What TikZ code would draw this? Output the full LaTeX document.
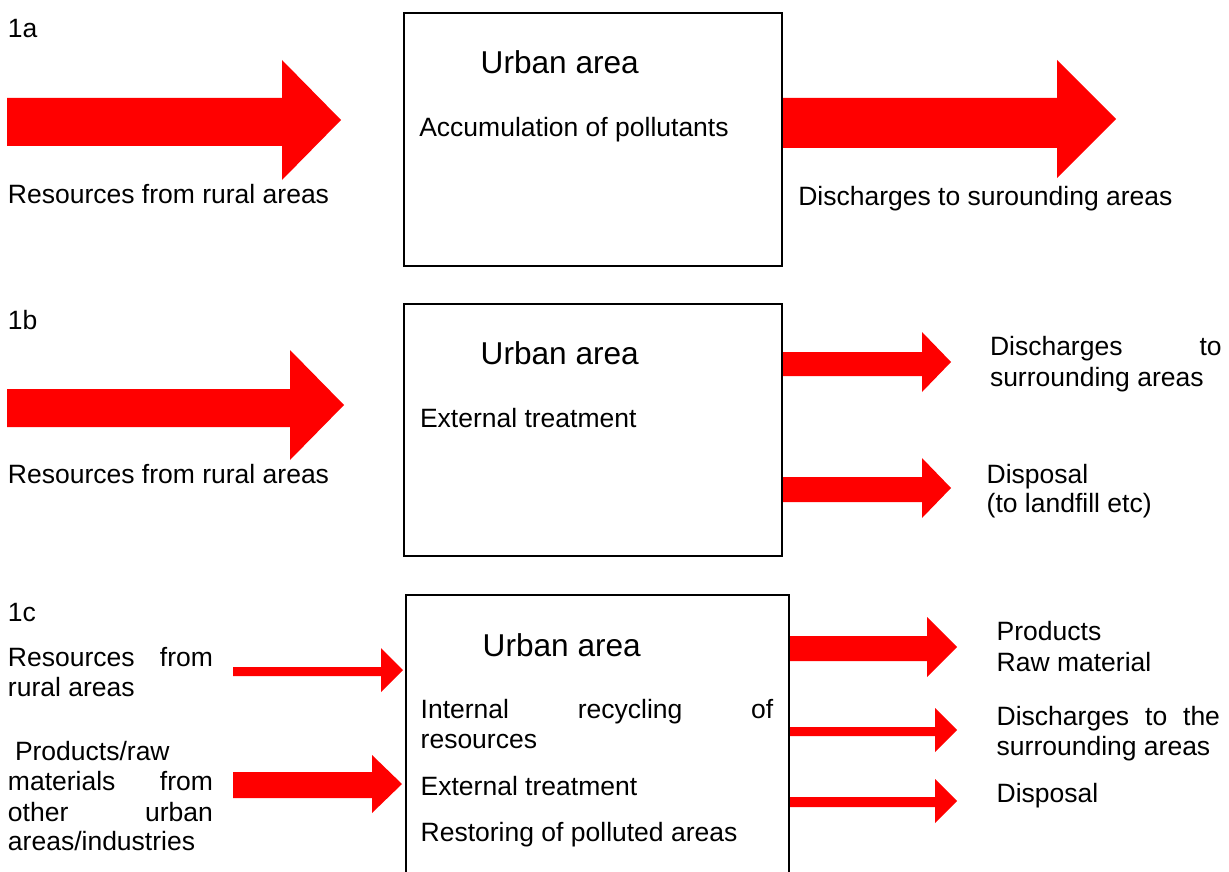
\documentclass[tikz,border=0pt]{standalone}
\usepackage{fontspec}
\setmainfont{Liberation Sans}
\definecolor{arrowred}{RGB}{255,0,0}
% #1 x start, #2 x head base, #3 x tip, #4 y of tip, #5 shaft top, #6 shaft bottom, #7 head half height
\newcommand\blockarr[7]{%
  \fill[arrowred] (#1,#5) -- (#2,#5) -- (#2,#4-#7) -- (#3,#4) -- (#2,#4+#7) -- (#2,#6) -- (#1,#6) -- cycle;}
\tikzset{
  lbl/.style={anchor=base west, inner sep=0pt, outer sep=0pt, font=\fontsize{26.5}{30.5}\selectfont},
  ttl/.style={anchor=base west, inner sep=0pt, outer sep=0pt, font=\fontsize{31.6}{36}\selectfont},
  ubox/.style={draw=black, line width=1.8pt, anchor=north west, inner sep=0pt, outer sep=0pt}
}
\begin{document}
\begin{tikzpicture}[x=1pt,y=-1pt]
\useasboundingbox (0,0) rectangle (1229,872);
\clip (0,0) rectangle (1229,872);
\fill[white] (0,0) rectangle (1229,872);

% ---------- 1a ----------
\node[ubox, minimum width=378pt, minimum height=253pt] (boxA) at (404,13) {};
\node[lbl] (la) at (8,38) {1a};
\node[ttl] (tA) at (480.7,74) {Urban area};
\node[lbl] (aA) at (419.3,136.7) {Accumulation of pollutants};
\node[lbl] (rA) at (8,204) {Resources from rural areas};
\node[lbl] (dA) at (798.3,205) {Discharges to surounding areas};
\blockarr{7}{282}{341}{120}{98}{146}{60}
\blockarr{783}{1057}{1116}{119}{98}{148}{59}

% ---------- 1b ----------
\node[ubox, minimum width=378pt, minimum height=252pt] (boxB) at (404,304) {};
\node[lbl] (lb) at (8,329.3) {1b};
\node[ttl] (tB) at (480.7,364) {Urban area};
\node[lbl] (eB) at (420,427.3) {External treatment};
\node[lbl] (rB) at (8,483.3) {Resources from rural areas};
\node[lbl] (dB1) at (990,355.7) {\hbox to 231.7pt{Discharges\hfill to}};
\node[lbl] (dB2) at (990,386.7) {surrounding areas};
\node[lbl] (pB1) at (986.7,483) {Disposal};
\node[lbl] (pB2) at (986.7,512.7) {(to landfill etc)};
\blockarr{7}{290}{344}{405}{389}{427}{55}
\blockarr{783}{922}{951}{362}{352}{376}{30}
\blockarr{783}{922}{951}{488}{477}{502}{30}

% ---------- 1c ----------
\node[ubox, minimum width=383pt, minimum height=320pt] (boxC) at (406,595) {};
\node[lbl] (lc) at (8,621.7) {1c};
\node[lbl] (rC1) at (8,666) {\hbox to 205pt{Resources\hfill from}};
\node[lbl] (rC2) at (8,696.7) {rural areas};
\node[lbl] (oC1) at (15,760) {Products/raw};
\node[lbl] (oC2) at (8,790) {\hbox to 205pt{materials\hfill from}};
\node[lbl] (oC3) at (8,821) {\hbox to 205pt{other\hfill urban}};
\node[lbl] (oC4) at (8,850) {areas/industries};
\node[ttl] (tC) at (482.7,656) {Urban area};
\node[lbl] (iC1) at (420.7,718.3) {\hbox to 352.6pt{Internal\hfill recycling\hfill of}};
\node[lbl] (iC2) at (420.7,748.3) {resources};
\node[lbl] (eC) at (420.7,795) {External treatment};
\node[lbl] (sC) at (420.7,841.7) {Restoring of polluted areas};
\node[lbl] (pC1) at (996.7,640.7) {Products};
\node[lbl] (pC2) at (996.7,671.7) {Raw material};
\node[lbl] (dC1) at (996.7,725) {\hbox to 223.3pt{Discharges\hfill to\hfill the}};
\node[lbl] (dC2) at (996.7,755) {surrounding areas};
\node[lbl] (xC) at (996.7,802.7) {Disposal};
\blockarr{233}{381}{403}{670}{667}{676}{22}
\blockarr{233}{372}{402}{784}{772}{798}{29}
\blockarr{790}{927}{957}{647}{636}{661}{30}
\blockarr{790}{935}{957}{730}{727}{736}{22}
\blockarr{790}{935}{957}{801}{797}{807}{22}
\end{tikzpicture}
\end{document}
